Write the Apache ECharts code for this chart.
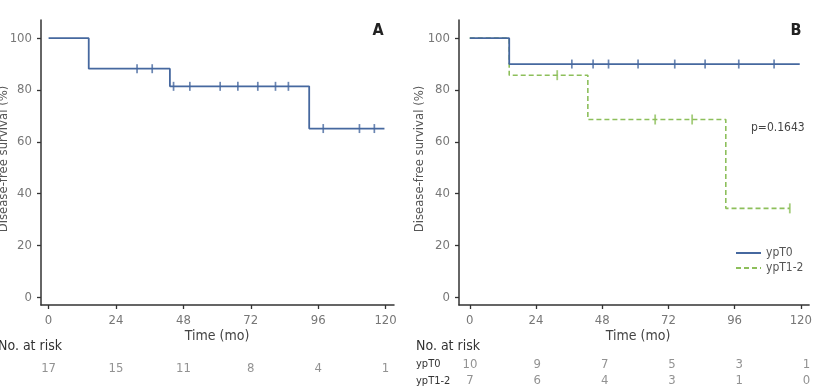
<!DOCTYPE html>
<html>
  <head>
    <meta charset="UTF-8" />
    <title>Disease-free survival</title>
    <script src="https://cdn.jsdelivr.net/npm/echarts@6/dist/echarts.min.js"></script>
    <style>
      html, body { margin: 0; padding: 0; background: #fff; }
      #main { width: 815px; height: 389px; }
    </style>
  </head>
  <body>
    <div id="main"></div>
    <script>
      // --- data ---
      var timeTicks = [0, 24, 48, 72, 96, 120];
      var yTicks = [0, 20, 40, 60, 80, 100];

      // panel A: all patients (event time, survival after event)
      var stepsA = [[0, 100], [14.3, 88.2], [43.2, 81.4], [92.8, 65.1]];
      var endA = 119.6;
      var censorA = [31.5, 36.9, 44.5, 50.3, 61.1, 67.4, 74.5, 80.8, 85.4, 97.8, 110.7, 116.0];
      var riskA = [17, 15, 11, 8, 4, 1];

      // panel B: ypT0
      var stepsT0 = [[0, 100], [14.3, 90.0]];
      var endT0 = 119.6;
      var censorT0 = [37.0, 44.7, 50.3, 61.0, 74.3, 85.3, 97.5, 110.3];
      var riskT0 = [10, 9, 7, 5, 3, 1];

      // panel B: ypT1-2
      var stepsT12 = [[0, 100], [14.3, 85.7], [42.8, 68.6], [92.8, 34.3]];
      var endT12 = 116.0;
      var censorT12 = [31.7, 67.2, 80.6, 116.0];
      var riskT12 = [7, 6, 4, 3, 1, 0];

      var riskRowsB = ["ypT0", "ypT1-2"];
      var pValue = "p=0.1643";

      var blue = "#46689f";
      var green = "#8dbf5b";
      var font = "'Liberation Sans Narrow', 'DejaVu Sans Condensed', 'Roboto', sans-serif";

      function stepLine(steps, end) {
        var pts = steps.slice();
        pts.push([end, steps[steps.length - 1][1]]);
        return pts;
      }
      function survAt(steps, t) {
        var s = steps[0][1];
        for (var i = 0; i < steps.length; i++) {
          if (steps[i][0] <= t) s = steps[i][1];
        }
        return s;
      }
      function censorPts(steps, times) {
        return times.map(function (t) { return [t, survAt(steps, t)]; });
      }
      function riskPts(row, vals) {
        return vals.map(function (v, i) { return [timeTicks[i], row, v]; });
      }

      var myChart = echarts.init(document.getElementById("main"));

      function mainX(idx, min) {
        return {
          type: "value",
          gridIndex: idx,
          min: min,
          max: 123,
          splitLine: { show: false },
          axisLine: { onZero: false, lineStyle: { color: "#333", width: 1.5 } },
          axisTick: { length: 4, customValues: timeTicks, lineStyle: { color: "#333", width: 1.3 } },
          axisLabel: { customValues: timeTicks, margin: 9, color: "#777", fontSize: 13, fontFamily: font },
        };
      }
      function mainY(idx) {
        return {
          type: "value",
          gridIndex: idx,
          min: -3,
          max: 107,
          splitLine: { show: false },
          axisLine: { show: true, onZero: false, lineStyle: { color: "#333", width: 1.5 } },
          axisTick: { show: true, length: 4, customValues: yTicks, lineStyle: { color: "#333", width: 1.3 } },
          axisLabel: { customValues: yTicks, margin: 9, color: "#777", fontSize: 13, fontFamily: font },
        };
      }
      function riskX(idx, min) {
        return { type: "value", gridIndex: idx, min: min, max: 123, show: false };
      }

      var option = {
        animation: false,
        textStyle: { fontFamily: font },
        grid: [
          { left: 41, top: 20, width: 353, height: 285 },
          { left: 459, top: 20, width: 357, height: 285 },
          { left: 41, top: 360, width: 353, height: 18 },
          { left: 459, top: 356, width: 357, height: 36 },
        ],
        xAxis: [mainX(0, -2.7), mainX(1, -3.9), riskX(2, -2.7), riskX(3, -3.9)],
        yAxis: [
          mainY(0),
          mainY(1),
          { type: "category", gridIndex: 2, data: ["all"], show: false },
          {
            type: "category",
            gridIndex: 3,
            data: riskRowsB,
            inverse: true,
            axisLine: { show: false },
            axisTick: { show: false },
            axisLabel: { align: "left", margin: 43, color: "#333", fontSize: 11, fontFamily: font },
          },
        ],
        legend: {
          data: ["ypT0", "ypT1-2"],
          orient: "vertical",
          left: 730,
          top: 242,
          itemWidth: 25,
          itemHeight: 8,
          itemGap: 3,
          itemStyle: { opacity: 0 },
          textStyle: { color: "#555", fontSize: 12, fontFamily: font },
        },
        series: [
          {
            name: "all",
            type: "line",
            xAxisIndex: 0,
            yAxisIndex: 0,
            step: "end",
            symbol: "none",
            data: stepLine(stepsA, endA),
            lineStyle: { color: blue, width: 1.8 },
          },
          {
            type: "scatter",
            xAxisIndex: 0,
            yAxisIndex: 0,
            symbol: "rect",
            symbolSize: [1.7, 9],
            itemStyle: { color: blue },
            data: censorPts(stepsA, censorA),
          },
          {
            name: "ypT1-2",
            type: "line",
            xAxisIndex: 1,
            yAxisIndex: 1,
            step: "end",
            symbol: "none",
            data: stepLine(stepsT12, endT12),
            itemStyle: { color: green },
            lineStyle: { color: green, width: 1.6, type: [5, 3] },
          },
          {
            type: "scatter",
            xAxisIndex: 1,
            yAxisIndex: 1,
            symbol: "rect",
            symbolSize: [1.8, 10],
            itemStyle: { color: green },
            data: censorPts(stepsT12, censorT12),
          },
          {
            name: "ypT0",
            type: "line",
            xAxisIndex: 1,
            yAxisIndex: 1,
            step: "end",
            symbol: "none",
            data: stepLine(stepsT0, endT0),
            itemStyle: { color: blue },
            lineStyle: { color: blue, width: 1.8 },
          },
          {
            type: "scatter",
            xAxisIndex: 1,
            yAxisIndex: 1,
            symbol: "rect",
            symbolSize: [1.7, 9],
            itemStyle: { color: blue },
            data: censorPts(stepsT0, censorT0),
          },
          {
            type: "scatter",
            xAxisIndex: 2,
            yAxisIndex: 2,
            symbolSize: 1,
            itemStyle: { color: "transparent" },
            label: {
              show: true,
              position: "inside",
              color: "#777",
              fontSize: 13,
              fontFamily: font,
              formatter: function (p) { return p.value[2]; },
            },
            data: riskPts("all", riskA),
          },
          {
            type: "scatter",
            xAxisIndex: 3,
            yAxisIndex: 3,
            symbolSize: 1,
            itemStyle: { color: "transparent" },
            label: {
              show: true,
              position: "inside",
              color: "#777",
              fontSize: 13,
              fontFamily: font,
              formatter: function (p) { return p.value[2]; },
            },
            data: riskPts("ypT0", riskT0).concat(riskPts("ypT1-2", riskT12)),
          },
        ],
        graphic: [
          { type: "text", x: 378, y: 31, style: { text: "A", fill: "#222", font: "bold 16px " + font, align: "center", verticalAlign: "middle" } },
          { type: "text", x: 796, y: 31, style: { text: "B", fill: "#222", font: "bold 16px " + font, align: "center", verticalAlign: "middle" } },
          { type: "text", x: 751, y: 128, style: { text: pValue, fill: "#444", font: "12px " + font, align: "left", verticalAlign: "middle" } },
          { type: "text", x: 4, y: 159, rotation: Math.PI / 2, style: { text: "Disease-free survival (%)", fill: "#555", font: "13px " + font, align: "center", verticalAlign: "middle" } },
          { type: "text", x: 420, y: 159, rotation: Math.PI / 2, style: { text: "Disease-free survival (%)", fill: "#555", font: "13px " + font, align: "center", verticalAlign: "middle" } },
          { type: "text", x: 217, y: 336, style: { text: "Time (mo)", fill: "#444", font: "14px " + font, align: "center", verticalAlign: "middle" } },
          { type: "text", x: 638, y: 336, style: { text: "Time (mo)", fill: "#444", font: "14px " + font, align: "center", verticalAlign: "middle" } },
          { type: "text", x: -2, y: 346, style: { text: "No. at risk", fill: "#333", font: "14px " + font, align: "left", verticalAlign: "middle" } },
          { type: "text", x: 416, y: 346, style: { text: "No. at risk", fill: "#333", font: "14px " + font, align: "left", verticalAlign: "middle" } },
        ],
      };
      myChart.setOption(option);
    </script>
  </body>
</html>
